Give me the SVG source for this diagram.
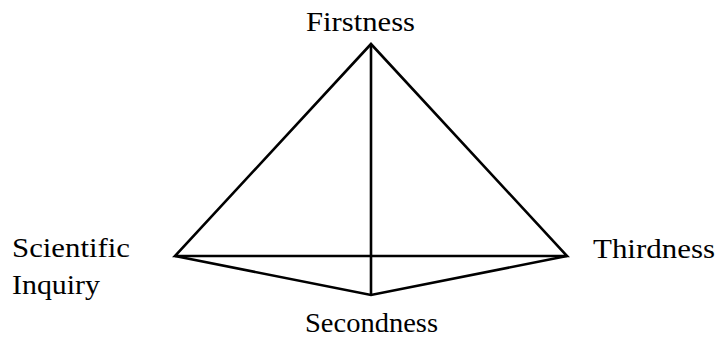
<svg xmlns="http://www.w3.org/2000/svg" width="723" height="342" viewBox="0 0 723 342">
<style>
.edge{stroke:#000;stroke-width:2.6;fill:none;stroke-linejoin:miter}
.lbl{font-family:"Liberation Serif","Times New Roman",Times,serif;font-size:28px;fill:#000}
</style>
<rect width="723" height="342" fill="#fff"/>
<g id="connectors">
<path class="edge" d="M371,44 L175,256 L567,256 Z"/>
<path class="edge" d="M175,256 L371,295 L567,256"/>
<path class="edge" d="M371,44 L371,295"/>
</g>
<g id="firstness"><text class="lbl" x="306" y="31" textLength="109" lengthAdjust="spacingAndGlyphs">Firstness</text></g>
<g id="scientific-inquiry"><text class="lbl" x="12" y="257" textLength="118" lengthAdjust="spacingAndGlyphs">Scientific</text><text class="lbl" x="12" y="294" textLength="88" lengthAdjust="spacingAndGlyphs">Inquiry</text></g>
<g id="thirdness"><text class="lbl" x="593" y="258" textLength="122" lengthAdjust="spacingAndGlyphs">Thirdness</text></g>
<g id="secondness"><text class="lbl" x="305" y="332" textLength="133" lengthAdjust="spacingAndGlyphs">Secondness</text></g>
</svg>
